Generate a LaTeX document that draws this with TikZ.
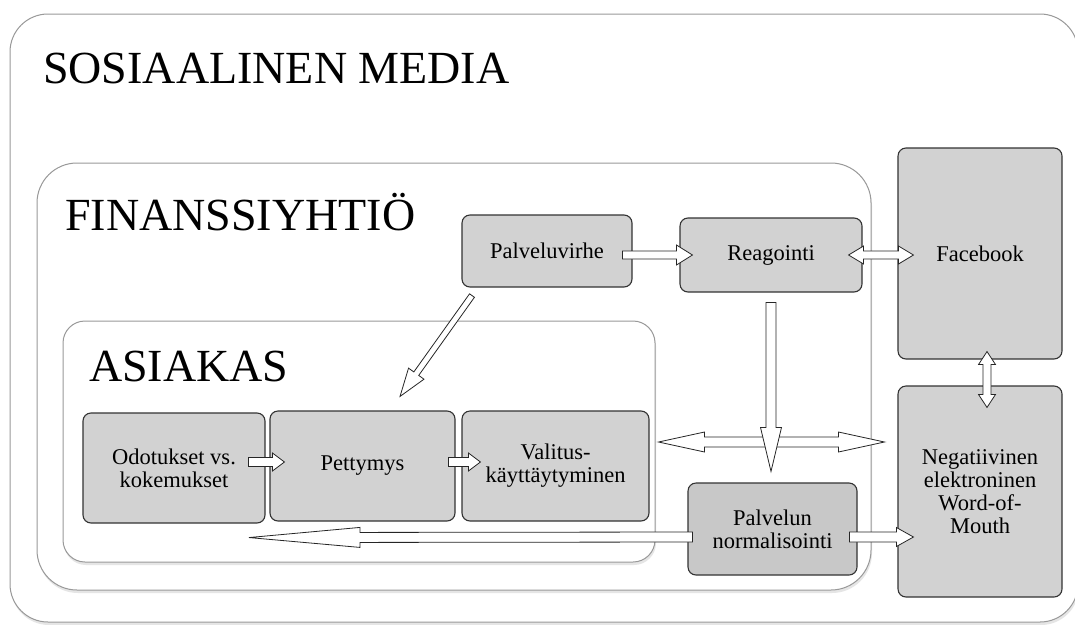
\documentclass[tikz,border=0pt]{standalone}
\usepackage{fontspec}
\setmainfont{Liberation Serif}
\usetikzlibrary{calc,shadows}

\newcommand{\boxfont}{\fontsize{22.5}{23}\selectfont}
\newcommand{\headfont}{\fontsize{46}{46}\selectfont}

\tikzset{
    frame/.style={draw=black!40, line width=1pt, fill=white, rounded corners=#1,
        drop shadow={shadow xshift=1pt, shadow yshift=-3pt, fill=black!20}},
    head/.style={anchor=base west, inner sep=0pt, font=\headfont},
    box/.style={draw=black!80, line width=1.1pt, fill=gray!35, rounded corners=8pt,
        align=center, inner sep=0pt, font=\boxfont},
    % block arrow: shaft half width, head half width, head length
    barrow/.style n args={3}{draw=black!85, fill=white, line width=0.8pt, to path={
        ($(\tikztostart)!#1!90:(\tikztotarget)$)
        -- ($(\tikztotarget)!#3!(\tikztostart)!#1!270:(\tikztostart)$)
        -- ($(\tikztotarget)!#3!(\tikztostart)!#2!270:(\tikztostart)$)
        -- (\tikztotarget)
        -- ($(\tikztotarget)!#3!(\tikztostart)!#2!90:(\tikztostart)$)
        -- ($(\tikztotarget)!#3!(\tikztostart)!#1!90:(\tikztostart)$)
        -- ($(\tikztostart)!#1!270:(\tikztotarget)$) -- cycle}},
    dbarrow/.style n args={3}{draw=black!85, fill=white, line width=0.8pt, to path={
        (\tikztostart)
        -- ($(\tikztostart)!#3!(\tikztotarget)!#2!90:(\tikztotarget)$)
        -- ($(\tikztostart)!#3!(\tikztotarget)!#1!90:(\tikztotarget)$)
        -- ($(\tikztotarget)!#3!(\tikztostart)!#1!270:(\tikztostart)$)
        -- ($(\tikztotarget)!#3!(\tikztostart)!#2!270:(\tikztostart)$)
        -- (\tikztotarget)
        -- ($(\tikztotarget)!#3!(\tikztostart)!#2!90:(\tikztostart)$)
        -- ($(\tikztotarget)!#3!(\tikztostart)!#1!90:(\tikztostart)$)
        -- ($(\tikztostart)!#3!(\tikztotarget)!#1!270:(\tikztotarget)$)
        -- ($(\tikztostart)!#3!(\tikztotarget)!#2!270:(\tikztotarget)$) -- cycle}},
}

\begin{document}
\begin{tikzpicture}[x=1pt, y=-1pt]
        \useasboundingbox (0,0) rectangle (1075,624);
        \clip (0,0) rectangle (1075,624);
        \fill[white] (0,0) rectangle (1075,624);
        % frames
        \path[frame=38pt] (10,14) rectangle (1078,622);
        \node[head] (media) at (43,83) {SOSIAALINEN MEDIA};
        \path[frame=40pt] (37,163) rectangle (871,590);
        \node[head] (yhtio) at (65,230) {FINANSSIYHTIÖ};
        \path[frame=22pt] (63,321) rectangle (655,562);
        \node[head] (asiakas) at (89,381) {ASIAKAS};
        % boxes
        \node[box, minimum width=170pt, minimum height=72pt] (pv) at (547,251) {Palveluvirhe};
        \node[box, minimum width=182pt, minimum height=74pt] (rea) at (771,255) {Reagointi};
        \node[box, minimum width=164pt, minimum height=211pt] (fb) at (980,253.5) {Facebook};
        \node[box, minimum width=164pt, minimum height=211pt] (ewom) at (980,491.5) {Negatiivinen\\elektroninen\\Word-of-\\Mouth};
        \node[box, minimum width=182pt, minimum height=110pt] (odo) at (174,468) {Odotukset vs.\\kokemukset};
        \node[box, minimum width=185pt, minimum height=110pt] (pet) at (362.5,466) {Pettymys};
        \node[box, minimum width=187pt, minimum height=110pt] (val) at (555.5,466) {Valitus-\\käyttäytyminen};
        \node[box, fill=gray!43, minimum width=169pt, minimum height=92pt] (norm) at (772.5,529) {Palvelun\\normalisointi};
        % arrow ends
        \coordinate (pvR) at ($(pv.east|-rea.west)+(-10,0)$);
        \coordinate (reaL) at ($(rea.west)+(13,0)$);
        \coordinate (reaR) at ($(rea.east)+(-14,0)$);
        \coordinate (fbL) at ($(fb.west|-rea.east)+(16,0)$);
        \coordinate (fbB) at ($(fb.south)+(7,-8)$);
        \coordinate (ewomT) at ($(ewom.north)+(7,22)$);
        \coordinate (pvB) at ($(pv.south)+(-75,8)$);
        \coordinate (petT) at ($(pet.north)+(37.5,-14)$);
        \coordinate (reaB) at ($(rea.south)+(0,10)$);
        \coordinate (normT) at ($(norm.north)+(-1.5,-11)$);
        \coordinate (valR) at ($(val.east)+(9,-24)$);
        \coordinate (fbW) at ($(fb.west|-val.east)+(-13,-24)$);
        \coordinate (odoR) at ($(odo.east)+(-17,-6)$);
        \coordinate (petL) at ($(pet.west)+(15,-4)$);
        \coordinate (petR) at ($(pet.east)+(-7,-4)$);
        \coordinate (valL) at ($(val.west)+(19,-4)$);
        \coordinate (normL) at ($(norm.west)+(5,8)$);
        \coordinate (odoB) at ($(odo.south)+(75,14)$);
        \coordinate (normR) at ($(norm.east)+(-8,8)$);
        \coordinate (ewomL) at ($(ewom.west)+(16,45.5)$);
        % arrows
        \draw[barrow={4pt}{10pt}{16pt}] (pvR) to (reaL);
        \draw[dbarrow={4pt}{9pt}{15pt}] (reaR) to (fbL);
        \draw[dbarrow={4pt}{8.5pt}{13pt}] (fbB) to (ewomT);
        \draw[barrow={3pt}{9.5pt}{28pt}] (pvB) to (petT);
        \draw[dbarrow={5pt}{10pt}{46pt}] (valR) to (fbW);
        \draw[barrow={5pt}{10.5pt}{44pt}] (reaB) to (normT);
        \draw[barrow={4.5pt}{9pt}{12pt}] (odoR) to (petL);
        \draw[barrow={4.5pt}{9pt}{12pt}] (petR) to (valL);
        \draw[barrow={5pt}{10pt}{111pt}] (normL) to (odoB);
        \draw[barrow={5pt}{9.5pt}{17pt}] (normR) to (ewomL);
\end{tikzpicture}
\end{document}
